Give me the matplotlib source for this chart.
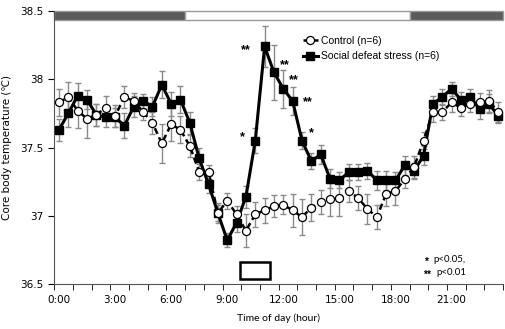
import numpy as np
import matplotlib.pyplot as plt
from matplotlib.patches import Rectangle

# half-hour bins, 0:00 .. 23:30
slots = np.arange(48)
hour_labels = ["0:00", "3:00", "6:00", "9:00", "12:00", "15:00", "18:00", "21:00"]

control = [37.83, 37.87, 37.77, 37.71, 37.74, 37.79, 37.73, 37.87, 37.84, 37.76,
           37.68, 37.53, 37.67, 37.63, 37.51, 37.32, 37.32, 37.02, 37.11, 37.01,
           36.89, 37.01, 37.04, 37.07, 37.08, 37.04, 36.99, 37.06, 37.10, 37.12,
           37.13, 37.18, 37.13, 37.05, 36.99, 37.16, 37.18, 37.27, 37.36, 37.55,
           37.76, 37.76, 37.83, 37.79, 37.82, 37.83, 37.84, 37.76]
control_err = [0.10, 0.11, 0.13, 0.14, 0.08, 0.09, 0.08, 0.08, 0.06, 0.06,
               0.08, 0.14, 0.12, 0.10, 0.08, 0.06, 0.05, 0.07, 0.06, 0.06,
               0.12, 0.09, 0.09, 0.08, 0.07, 0.12, 0.13, 0.10, 0.09, 0.12,
               0.13, 0.08, 0.09, 0.11, 0.09, 0.09, 0.10, 0.07, 0.08, 0.06,
               0.07, 0.06, 0.07, 0.06, 0.06, 0.07, 0.08, 0.07]

stress = [37.63, 37.75, 37.88, 37.85, 37.74, 37.72, 37.72, 37.66, 37.80, 37.84,
          37.80, 37.96, 37.82, 37.85, 37.68, 37.42, 37.23, 37.02, 36.82, 36.95,
          37.14, 37.55, 38.24, 38.05, 37.93, 37.84, 37.55, 37.40, 37.45, 37.27,
          37.26, 37.32, 37.32, 37.33, 37.26, 37.26, 37.26, 37.37, 37.33, 37.44,
          37.82, 37.87, 37.93, 37.85, 37.87, 37.78, 37.82, 37.73]
stress_err = [0.08, 0.10, 0.09, 0.07, 0.08, 0.07, 0.07, 0.09, 0.08, 0.05,
              0.07, 0.10, 0.09, 0.10, 0.08, 0.08, 0.06, 0.06, 0.05, 0.07,
              0.08, 0.09, 0.15, 0.20, 0.14, 0.10, 0.06, 0.06, 0.07, 0.07,
              0.06, 0.06, 0.06, 0.06, 0.07, 0.07, 0.06, 0.07, 0.06, 0.07,
              0.06, 0.06, 0.05, 0.06, 0.06, 0.07, 0.07, 0.05]

# significance marks: (slot, temperature, text)
sig_marks = [(20.0, 38.24, "**"), (19.6, 37.60, "*"), (24.2, 38.13, "**"),
             (25.1, 38.02, "**"), (26.6, 37.86, "**"), (27.0, 37.63, "*")]

fig = plt.figure(figsize=(5.05, 3.29), dpi=100)
ax = fig.add_axes([54.3 / 505, 45 / 329, 448.7 / 505, 273 / 329])
plt.rcParams['font.family'] = ['Liberation Sans', 'DejaVu Sans']

ax.errorbar(slots, stress, yerr=stress_err, fmt="none", ecolor="#8a8a8a",
            elinewidth=1, capsize=2, capthick=1, zorder=2)
ax.errorbar(slots, control, yerr=control_err, fmt="none", ecolor="#8a8a8a",
            elinewidth=1, capsize=2, capthick=1, zorder=2)
ax.plot(slots, stress, "-s", color="black", lw=2.2, ms=5.2,
        label="Social defeat stress (n=6)", zorder=3)
ax.plot(slots, control, "o", color="black", mfc="white", mec="black", mew=0.9,
        ms=5.8, ls=(0, (2.5, 1.5)), lw=1.8, label="Control (n=6)", zorder=4)

for x, y, s in sig_marks:
    ax.text(x, y - 0.025, s, ha="center", va="center", fontsize=9, fontweight="bold")

# light / dark bar at top
bar_y, bar_h = 38.435, 0.065
ax.add_patch(Rectangle((-0.5, bar_y), 14, bar_h, fc="#5a5a5a", ec="#9a9a9a", lw=1, clip_on=False))
ax.add_patch(Rectangle((13.5, bar_y), 24, bar_h, fc="white", ec="#9a9a9a", lw=1, clip_on=False))
ax.add_patch(Rectangle((37.5, bar_y), 10, bar_h, fc="#5a5a5a", ec="#9a9a9a", lw=1, clip_on=False))

# stress session box
ax.add_patch(Rectangle((19.36, 36.54), 3.21, 0.12, fc="white", ec="black", lw=1.8))

ax.text(39.3, 36.665, "*", fontsize=7.5, fontweight="bold", ha="center", va="center")
ax.text(40.0, 36.68, "p<0.05,", fontsize=7, family="Lato", va="center")
ax.text(39.4, 36.57, "**", fontsize=7.5, fontweight="bold", ha="center", va="center")
ax.text(40.4, 36.585, "p<0.01", fontsize=7, family="Lato", va="center")

ax.set_xlim(-0.5, 47.5)
ax.set_ylim(36.5, 38.5)
ax.set_yticks([36.5, 37, 37.5, 38, 38.5])
ax.set_yticklabels(["36.5", "37", "37.5", "38", "38.5"])
ax.set_xticks(np.arange(0, 48, 6))
ax.set_xticklabels(hour_labels)
ax.set_xticks(np.arange(-0.5, 48, 2), minor=True)
ax.tick_params(axis="x", which="major", length=0, pad=8, labelsize=7.5)
ax.tick_params(axis="x", which="minor", length=4, direction="out")
ax.tick_params(axis="y", length=4, direction="out", labelsize=7.5)

for side in ["top", "right"]:
    ax.spines[side].set_visible(False)
for side in ["left", "bottom"]:
    ax.spines[side].set_color("#555555")

ax.set_xlabel("Time of day (hour)", family="Lato", fontsize=7.5, labelpad=6)
ax.set_ylabel("Core body temperature (\u2103)", fontsize=7.5, labelpad=6)

handles, labels = ax.get_legend_handles_labels()
ax.legend(handles[::-1], labels[::-1], loc="upper left", bbox_to_anchor=(0.545, 0.925),
          frameon=False, fontsize=7.5, handlelength=1.4, handletextpad=0.3,
          labelspacing=0.55, borderaxespad=0)

fig.savefig("out.png", dpi=100)
